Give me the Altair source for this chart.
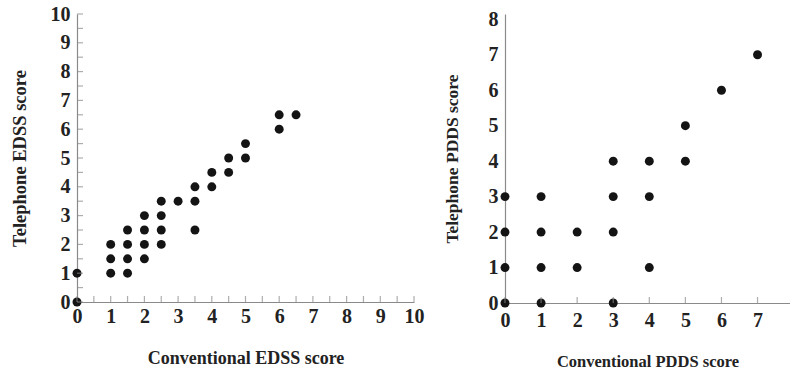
import altair as alt
import pandas as pd

# EDSS panel: conventional vs telephone
edss_conv = [0, 0, 1, 1, 1, 1.5, 1.5, 1.5, 1.5, 2, 2, 2, 2, 2.5, 2.5, 2.5, 2.5,
             3, 3.5, 3.5, 3.5, 4, 4, 4.5, 4.5, 5, 5, 6, 6, 6.5]
edss_tel = [0, 1, 1, 1.5, 2, 1, 1.5, 2, 2.5, 1.5, 2, 2.5, 3, 2, 2.5, 3, 3.5,
            3.5, 2.5, 3.5, 4, 4, 4.5, 4.5, 5, 5, 5.5, 6, 6.5, 6.5]
# PDDS panel
pdds_conv = [0, 0, 0, 0, 1, 1, 1, 1, 2, 2, 3, 3, 3, 3, 4, 4, 4, 5, 5, 6, 7]
pdds_tel = [0, 1, 2, 3, 0, 1, 2, 3, 1, 2, 0, 2, 3, 4, 1, 3, 4, 4, 5, 6, 7]

edss_labels = [0, 1, 2, 3, 4, 5, 6, 7, 8, 9, 10]
edss_minor = [0, 0.5, 1, 1.5, 2, 2.5, 3, 3.5, 4, 4.5, 5, 5.5, 6, 6.5, 7, 7.5,
              8, 8.5, 9, 9.5, 10]
pdds_labels = [0, 1, 2, 3, 4, 5, 6, 7, 8]
pdds_xticks = [0, 1, 2, 3, 4, 5, 6, 7]

AX = "#8a8a8a"
DOT = "#141414"
FONT = "Liberation Serif"

edss_df = pd.DataFrame({"c": edss_conv, "t": edss_tel})
pdds_df = pd.DataFrame({"c": pdds_conv, "t": pdds_tel})
edss_tick_df = pd.DataFrame({"v": edss_minor, "z": [0] * len(edss_minor)})
pdds_tick_df = pd.DataFrame({"v": pdds_xticks, "z": [0] * len(pdds_xticks)})


def axis(title, values, lp, tp, ts):
    return alt.Axis(values=values, title=title, ticks=False, grid=False,
                    labelOverlap=False, labelFlush=False,
                    domainColor=AX, domainWidth=1.2,
                    labelFont=FONT, labelFontSize=20, labelFontWeight="bold",
                    labelColor="#222", titleFont=FONT, titleFontSize=ts,
                    titleFontWeight="bold", titleColor="#222",
                    labelPadding=lp, titlePadding=tp)


ex = alt.Scale(domain=[0, 10], nice=False)
ey = alt.Scale(domain=[0, 10], nice=False)
ax_ex = axis("Conventional EDSS score", edss_labels, 4, 23, 18)
ax_ey = axis("Telephone EDSS score", edss_labels, 7, 21, 18.5)

left_pts = alt.Chart(edss_df).mark_circle(size=80, color=DOT, opacity=1).encode(
    x=alt.X("c:Q", scale=ex, axis=ax_ex),
    y=alt.Y("t:Q", scale=ey, axis=ax_ey),
)
left_xt = alt.Chart(edss_tick_df).mark_tick(orient="vertical", size=6, thickness=1.2,
                                            yOffset=-3, color=AX).encode(
    x=alt.X("v:Q", scale=ex, axis=ax_ex), y=alt.Y("z:Q", scale=ey, axis=ax_ey))
left_yt = alt.Chart(edss_tick_df).mark_tick(orient="horizontal", size=6, thickness=1.2,
                                            xOffset=3, color=AX).encode(
    x=alt.X("z:Q", scale=ex, axis=ax_ex), y=alt.Y("v:Q", scale=ey, axis=ax_ey))
left = alt.layer(left_pts, left_xt, left_yt).properties(width=337, height=288)

px = alt.Scale(domain=[0, 7.9], nice=False)
py = alt.Scale(domain=[0, 8.15], nice=False)
ax_px = axis("Conventional PDDS score", pdds_xticks, 7, 23, 16.5)
ax_py = axis("Telephone PDDS score", pdds_labels, 7, 27, 17.5)
right_pts = alt.Chart(pdds_df).mark_circle(size=80, color=DOT, opacity=1).encode(
    x=alt.X("c:Q", scale=px, axis=ax_px),
    y=alt.Y("t:Q", scale=py, axis=ax_py),
)
right_xt = alt.Chart(pdds_tick_df).mark_tick(orient="vertical", size=6, thickness=1.2,
                                             yOffset=-3, color=AX).encode(
    x=alt.X("v:Q", scale=px, axis=ax_px), y=alt.Y("z:Q", scale=py, axis=ax_py))
right = alt.layer(right_pts, right_xt).properties(width=285, height=289)

chart = alt.hconcat(left, right, spacing=19).resolve_scale(x="independent", y="independent").properties(
    padding={"left": 10, "top": 4, "right": 0, "bottom": 0},
    background="white",
).configure_view(strokeWidth=0)

chart.save("out.html", embed_options={"renderer": "svg", "actions": False})
